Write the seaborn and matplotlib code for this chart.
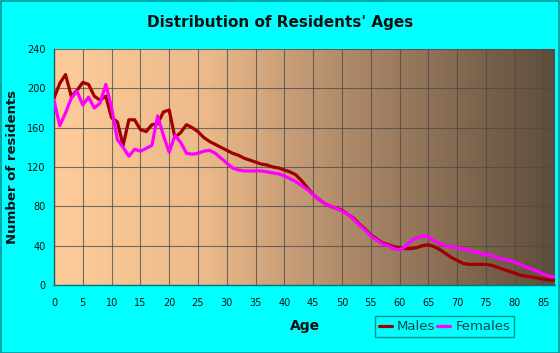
import numpy as np
import pandas as pd
import matplotlib
matplotlib.use("Agg")
import matplotlib.pyplot as plt
from matplotlib.colors import LinearSegmentedColormap
from matplotlib.patches import Rectangle
import seaborn as sns

ages = list(range(0, 88))
males = [190, 205, 214, 192, 198, 206, 204, 192, 188, 192,
         170, 166, 142, 168, 168, 158, 156, 163, 164, 176,
         178, 150, 155, 163, 160, 156, 150, 146, 143, 140,
         137, 134, 132, 129, 127, 125, 123, 122, 120, 119,
         117, 115, 112, 106, 99, 92, 87, 83, 80, 78,
         76, 72, 68, 62, 57, 51, 47, 43, 41, 39,
         38, 37, 37, 38, 40, 41, 39, 36, 32, 28,
         25, 22, 21, 21, 21, 21, 20, 18, 16, 14,
         12, 10, 9, 8, 7, 6, 5, 5]
females = [188, 162, 175, 190, 197, 183, 191, 180, 185, 204,
           180, 148, 140, 131, 138, 136, 139, 142, 172, 152,
           135, 152, 145, 134, 133, 134, 136, 137, 134, 129,
           124, 119, 117, 116, 116, 116, 116, 115, 114, 113,
           111, 108, 105, 101, 97, 92, 87, 83, 80, 78,
           75, 72, 67, 61, 56, 50, 46, 42, 40, 37,
           36, 39, 45, 48, 50, 49, 45, 42, 40, 39,
           38, 37, 35, 34, 32, 31, 30, 28, 26, 25,
           23, 21, 18, 16, 14, 11, 9, 8]
x_ticks = list(range(0, 90, 5))
y_ticks = [0, 40, 80, 120, 160, 200, 240]

df = pd.DataFrame({
    "Age": ages * 2,
    "Residents": males + females,
    "Sex": ["Males"] * len(ages) + ["Females"] * len(ages),
})

sns.set_theme(style="white")
plt.rcParams["font.family"] = ["DejaVu Sans"]

bg = "#00FFFF"
fig = plt.figure(figsize=(5.6, 3.53), dpi=100, facecolor=bg)
ax = fig.add_axes([54 / 560, 1 - 285 / 353, (555 - 54) / 560, (285 - 49) / 353])

# gradient background
cmap = LinearSegmentedColormap.from_list(
    "bggrad",
    [(0.0, (253 / 255, 204 / 255, 154 / 255)),
     (0.3, (236 / 255, 186 / 255, 138 / 255)),
     (0.6, (172 / 255, 136 / 255, 104 / 255)),
     (1.0, (94 / 255, 77 / 255, 60 / 255))])
grad = np.linspace(0, 1, 256).reshape(1, -1)
ax.imshow(grad, extent=[0, 87, 0, 240], aspect="auto", cmap=cmap, zorder=0)

sns.lineplot(data=df, x="Age", y="Residents", hue="Sex",
             palette={"Males": "#A00000", "Females": "#FF00FF"},
             hue_order=["Males", "Females"],
             linewidth=2.3, ax=ax, zorder=3, legend=False)

ax.set_xlim(0, 87)
ax.set_ylim(0, 240)
ax.set_xticks(x_ticks)
ax.set_xticks(range(0, 88), minor=True)
ax.set_yticks(y_ticks)
ax.grid(True, which="major", color="#4a4a4a", linewidth=0.8, alpha=0.75, zorder=1)
ax.set_axisbelow(False)
for l in ax.get_xgridlines() + ax.get_ygridlines():
    l.set_zorder(1)

for s in ["top", "right"]:
    ax.spines[s].set_visible(False)
for s in ["left", "bottom"]:
    ax.spines[s].set_color("#007777")
    ax.spines[s].set_linewidth(1)

ax.tick_params(axis="both", which="major", direction="out", length=4,
               width=0.8, color="#007777", labelsize=7, labelcolor="#111111")
ax.tick_params(axis="x", which="minor", direction="out", length=2.5,
               width=0.6, color="#007777")
ax.tick_params(axis="x", pad=5)
ax.tick_params(axis="y", pad=2)

ax.set_xlabel("Age", fontsize=10, fontweight="bold", labelpad=8, color="#111111")
ax.set_ylabel("Number of residents", fontsize=9.5, fontweight="bold",
              labelpad=6, color="#111111")

fig.text(0.5, 1 - 22 / 353, "Distribution of Residents' Ages", ha="center",
         va="center", fontsize=11, fontweight="bold", color="#111111")

from matplotlib.lines import Line2D
handles = [Line2D([], [], color="#A00000", lw=2.3),
           Line2D([], [], color="#FF00FF", lw=2.3)]
leg = fig.legend(handles, ["Males", "Females"], loc="lower left",
                 bbox_to_anchor=(368 / 560, 1 - 344 / 353, (521 - 368) / 560, 25 / 353),
                 ncol=2, frameon=True, fontsize=9.5, handlelength=1.0,
                 handletextpad=0.4, columnspacing=1.2, borderpad=0.3,
                 mode="expand", fancybox=False)
leg.get_frame().set_edgecolor("#007777")
leg.get_frame().set_facecolor(bg)
leg.get_frame().set_linewidth(1)
for t in leg.get_texts():
    t.set_color("#114444")

fig.patches.append(Rectangle((0.001, 0.001), 0.998, 0.997, transform=fig.transFigure,
                             fill=False, edgecolor="#009999", linewidth=1.2))

fig.savefig("out.png", dpi=100, facecolor=bg)
